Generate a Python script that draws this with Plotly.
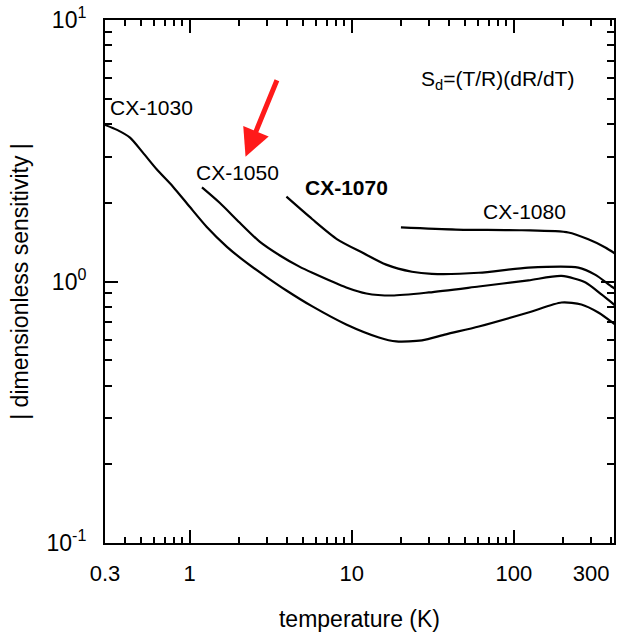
import math
import plotly.graph_objects as go

# ---- data ----
t_1030 = [0.30, 0.356, 0.428, 0.514, 0.627, 0.786, 1.00, 1.27, 1.69, 2.24, 2.98, 3.95, 5.71, 9.24,
          14.7, 18.8, 27.1, 38.1, 60.8, 123, 197, 261, 332, 429]
s_1030 = [3.97, 3.80, 3.55, 3.11, 2.68, 2.31, 1.93, 1.62, 1.36, 1.18, 1.04, 0.924, 0.803, 0.685,
          0.611, 0.590, 0.595, 0.628, 0.673, 0.761, 0.831, 0.817, 0.761, 0.679]

t_1050 = [1.19, 1.53, 2.03, 2.70, 3.58, 4.75, 5.71, 9.24, 12.3, 17.7, 29.9, 60.8, 123, 197, 277, 347, 429]
s_1050 = [2.29, 2.00, 1.68, 1.42, 1.26, 1.14, 1.08, 0.949, 0.900, 0.884, 0.908, 0.957, 1.01, 1.05,
          0.991, 0.892, 0.803]

t_1070 = [3.95, 5.71, 8.13, 11.6, 16.3, 23.5, 31.2, 60.8, 123, 250, 319, 400, 429]
s_1070 = [2.11, 1.73, 1.45, 1.29, 1.16, 1.09, 1.07, 1.08, 1.13, 1.13, 1.06, 0.957, 0.932]

t_1080 = [20.1, 43.9, 112, 217, 288, 367, 429]
s_1080 = [1.61, 1.58, 1.57, 1.54, 1.45, 1.35, 1.27]

series_names = ["CX-1030", "CX-1050", "CX-1070", "CX-1080"]
label_pos_t = [0.58, 1.96, 9.30, 115.7]      # label centres (temperature)
label_pos_s = [4.63, 2.60, 2.28, 1.86]       # label centres (sensitivity)
label_bold = [False, False, True, False]

x_tick_vals = [0.3, 1, 10, 100, 300]
x_tick_text = ["0.3", "1", "10", "100", "300"]
x_major_vals = [1, 10, 100]
x_minor_vals = [0.4, 0.5, 0.6, 0.7, 0.8, 0.9, 2, 3, 4, 5, 6, 7, 8, 9,
                20, 30, 40, 50, 60, 70, 80, 90, 200, 400]
y_tick_vals = [0.1, 1, 10]
y_tick_text = ["10<sup>-1</sup>", "10<sup>0</sup>", "10<sup>1</sup>"]
y_minor_vals = [0.2, 0.3, 0.4, 0.5, 0.6, 0.7, 0.8, 0.9, 2, 3, 4, 5, 6, 7, 8, 9]

x_range = [math.log10(0.3), math.log10(415)]
y_range = [-1, 1]

FONT = "Liberation Sans, Arial, Helvetica, sans-serif"

fig = go.Figure()
for t, s in [(t_1030, s_1030), (t_1050, s_1050), (t_1070, s_1070), (t_1080, s_1080)]:
    fig.add_trace(go.Scatter(x=t, y=s, mode="lines",
                             line=dict(color="black", width=2.2, shape="spline", smoothing=0.7),
                             showlegend=False, hoverinfo="skip"))

# invisible helper trace so the overlay axis (long major ticks) is drawn
fig.add_trace(go.Scatter(x=[1], y=[1], xaxis="x2", mode="markers",
                         marker=dict(opacity=0), showlegend=False, hoverinfo="skip"))

for name, lt, ls, b in zip(series_names, label_pos_t, label_pos_s, label_bold):
    fig.add_annotation(x=math.log10(lt), y=math.log10(ls), xref="x", yref="y",
                       text=f"<b>{name}</b>" if b else name, showarrow=False,
                       font=dict(family=FONT, size=21, color="black"))

fig.add_annotation(x=math.log10(79.5), y=math.log10(5.9), xref="x", yref="y",
                   text="S<sub>d</sub>=(T/R)(dR/dT)", showarrow=False,
                   font=dict(family=FONT, size=21, color="black"))

# red arrow
fig.add_annotation(x=math.log10(2.21), y=math.log10(3.0), xref="x", yref="y",
                   text="", showarrow=True, arrowhead=2, arrowsize=1.1, arrowwidth=5,
                   arrowcolor="#ff1a1a", ax=32, ay=-78, axref="pixel", ayref="pixel")

fig.update_layout(
    width=618, height=632,
    margin=dict(l=105, r=2, t=20, b=89),
    paper_bgcolor="white", plot_bgcolor="white",
    font=dict(family=FONT, size=22, color="black"),
    xaxis=dict(type="log", range=x_range, showgrid=False, zeroline=False,
               showline=True, linecolor="black", linewidth=2, mirror="ticks",
               ticks="inside", ticklen=6, tickwidth=1.5, tickcolor="black",
               tickmode="array", tickvals=x_tick_vals, ticktext=x_tick_text,
               ticklabelstandoff=10,
               tickfont=dict(family=FONT, size=22),
               minor=dict(tickmode="array", tickvals=x_minor_vals, ticks="inside",
                          ticklen=6, tickwidth=1.5, tickcolor="black", showgrid=False),
               title=dict(text="temperature (K)", font=dict(family=FONT, size=23), standoff=25)),
    xaxis2=dict(type="log", range=x_range, overlaying="x", anchor="y", side="bottom",
                showgrid=False, zeroline=False, showline=False, mirror="ticks",
                ticks="inside", ticklen=13, tickwidth=1.5, tickcolor="black",
                tickmode="array", tickvals=x_major_vals, showticklabels=False),
    yaxis=dict(type="log", range=y_range, showgrid=False, zeroline=False,
               showline=True, linecolor="black", linewidth=2, mirror="ticks",
               ticks="inside", ticklen=13, tickwidth=1.5, tickcolor="black",
               tickmode="array", tickvals=y_tick_vals, ticktext=y_tick_text,
               ticklabelstandoff=12,
               tickfont=dict(family=FONT, size=23),
               minor=dict(tickmode="array", tickvals=y_minor_vals, ticks="inside",
                          ticklen=7, tickwidth=1.5, tickcolor="black", showgrid=False),
               title=dict(text="| dimensionless sensitivity |", font=dict(family=FONT, size=23),
                          standoff=11)),
)

fig.write_html("out.html")
